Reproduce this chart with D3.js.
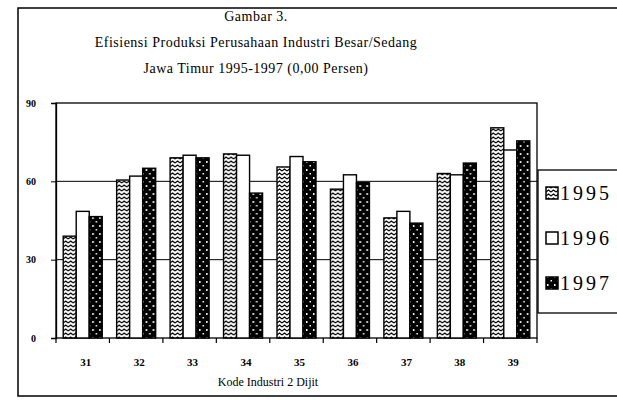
<!DOCTYPE html>
<html>
  <head>
    <script type="text/javascript" src="https://cdn.jsdelivr.net/npm/d3@7"></script>
    <style>
      body { margin: 0; background: #fff; }
      text { font-family: "Liberation Serif", serif; fill: #000; }
    </style>
  </head>
  <body>
  <script type='text/javascript'>

    // data
    var categories = ["31", "32", "33", "34", "35", "36", "37", "38", "39"];
    var years = ["1995", "1996", "1997"];
    var v1995 = [39, 60.5, 69, 70.5, 65.5, 57, 46, 63, 80.5];
    var v1996 = [48.5, 62, 70, 70, 69.5, 62.5, 48.5, 62.5, 72];
    var v1997 = [46.5, 65, 69, 55.5, 67.5, 59.5, 44, 67, 75.5];
    var yTicks = [0, 30, 60, 90];
    var titleLines = ["Gambar 3.",
                      "Efisiensi Produksi Perusahaan Industri Besar/Sedang",
                      "Jawa Timur 1995-1997  (0,00 Persen)"];
    var xTitle = "Kode Industri 2 Dijit";

    var series = [v1995, v1996, v1997];

    var W = 617, H = 400;
    var PLOT = {left: 56, right: 537, top: 103, bottom: 338};

    var svg = d3.select("body").append("svg")
        .attr("width", W)
        .attr("height", H);

    // patterns for the bar fills
    var defs = svg.append("defs");

    var p95 = defs.append("pattern")
        .attr("id", "p1995")
        .attr("patternUnits", "userSpaceOnUse")
        .attr("width", 5).attr("height", 4);
    p95.append("rect").attr("width", 5).attr("height", 4).attr("fill", "#fff");
    p95.append("path")
        .attr("d", "M0,3 L2.5,1 L5,3")
        .attr("fill", "none").attr("stroke", "#000").attr("stroke-width", 1.2);

    var p97 = defs.append("pattern")
        .attr("id", "p1997")
        .attr("patternUnits", "userSpaceOnUse")
        .attr("width", 7).attr("height", 8);
    p97.append("rect").attr("width", 7).attr("height", 8).attr("fill", "#000");
    p97.append("rect").attr("x", 1).attr("y", 1).attr("width", 1.5).attr("height", 2).attr("fill", "#fff");
    p97.append("rect").attr("x", 4.5).attr("y", 5).attr("width", 1.5).attr("height", 1.5).attr("fill", "#fff");

    var fills = ["url(#p1995)", "#fff", "url(#p1997)"];

    // outer frame
    svg.append("rect")
        .attr("x", 18).attr("y", 8)
        .attr("width", 640).attr("height", 388)
        .attr("fill", "none").attr("stroke", "#000").attr("stroke-width", 1.5);

    // title
    svg.selectAll(".title")
        .data(titleLines)
        .enter().append("text")
        .attr("class", "title")
        .attr("x", 256)
        .attr("y", function(d, i){ return 21 + i * 26; })
        .attr("text-anchor", "middle")
        .style("font-size", "14px")
        .style("letter-spacing", "0.5px")
        .text(function(d){ return d; });

    var x0 = d3.scaleBand()
        .domain(categories)
        .range([PLOT.left, PLOT.right])
        .paddingInner(0.27)
        .paddingOuter(0.135);

    var x1 = d3.scaleBand()
        .domain(years)
        .range([0, x0.bandwidth()]);

    var y = d3.scaleLinear()
        .domain([0, 90])
        .range([PLOT.bottom, PLOT.top]);

    // gridlines
    svg.selectAll(".grid")
        .data(yTicks.filter(function(d){ return d > 0 && d < 90; }))
        .enter().append("line")
        .attr("x1", PLOT.left).attr("x2", PLOT.right)
        .attr("y1", function(d){ return y(d); })
        .attr("y2", function(d){ return y(d); })
        .attr("stroke", "#000").attr("stroke-width", 1);

    // plot frame
    svg.append("rect")
        .attr("x", PLOT.left).attr("y", PLOT.top)
        .attr("width", PLOT.right - PLOT.left)
        .attr("height", PLOT.bottom - PLOT.top)
        .attr("fill", "none").attr("stroke", "#000").attr("stroke-width", 1.3);

    // bars
    var groups = svg.selectAll(".grp")
        .data(categories)
        .enter().append("g")
        .attr("transform", function(d){ return "translate(" + x0(d) + ",0)"; });

    groups.selectAll("rect")
        .data(function(d, i){ return years.map(function(yr, k){ return {yr: yr, k: k, v: series[k][i]}; }); })
        .enter().append("rect")
        .attr("x", function(d){ return x1(d.yr); })
        .attr("width", x1.bandwidth())
        .attr("y", function(d){ return y(d.v); })
        .attr("height", function(d){ return y(0) - y(d.v); })
        .attr("fill", function(d){ return fills[d.k]; })
        .attr("stroke", "#000").attr("stroke-width", 1.4);

    // y axis
    var yAxis = svg.append("g")
        .attr("transform", "translate(" + PLOT.left + ",0)")
        .call(d3.axisLeft(y).tickValues(yTicks).tickSize(5).tickPadding(15));
    yAxis.select(".domain").attr("stroke-width", 1.3);
    yAxis.selectAll("text")
        .attr("font-family", "Liberation Serif")
        .style("font-size", "10px")
        .style("font-weight", "bold");

    // x axis: ticks at the category boundaries
    var step = x0.step();
    var bounds = d3.range(categories.length + 1).map(function(i){ return PLOT.left + i * step; });
    svg.selectAll(".xtick")
        .data(bounds)
        .enter().append("line")
        .attr("x1", function(d){ return d; }).attr("x2", function(d){ return d; })
        .attr("y1", PLOT.bottom).attr("y2", PLOT.bottom + 5)
        .attr("stroke", "#000").attr("stroke-width", 1.2);

    svg.selectAll(".xlab")
        .data(categories)
        .enter().append("text")
        .attr("x", function(d){ return x0(d) + x0.bandwidth() / 2 + 3; })
        .attr("y", 366)
        .attr("text-anchor", "middle")
        .style("font-size", "11px")
        .style("font-weight", "bold")
        .text(function(d){ return d; });

    svg.append("text")
        .attr("x", 268).attr("y", 386)
        .attr("text-anchor", "middle")
        .style("font-size", "12px")
        .text(xTitle);

    // legend
    var leg = svg.append("g");
    leg.append("rect")
        .attr("x", 538).attr("y", 170)
        .attr("width", 100).attr("height", 143)
        .attr("fill", "#fff").attr("stroke", "#000").attr("stroke-width", 1.3);

    var items = leg.selectAll(".item")
        .data(years)
        .enter().append("g")
        .attr("transform", function(d, i){ return "translate(546," + (193 + i * 45) + ")"; });
    items.append("rect")
        .attr("x", 0).attr("y", -6)
        .attr("width", 12).attr("height", 12)
        .attr("fill", function(d, i){ return fills[i]; })
        .attr("stroke", "#000").attr("stroke-width", 1.5);
    items.append("text")
        .attr("x", 14).attr("y", 7)
        .style("font-size", "20px")
        .style("letter-spacing", "3px")
        .text(function(d){ return d; });

  </script>
  </body>
</html>
